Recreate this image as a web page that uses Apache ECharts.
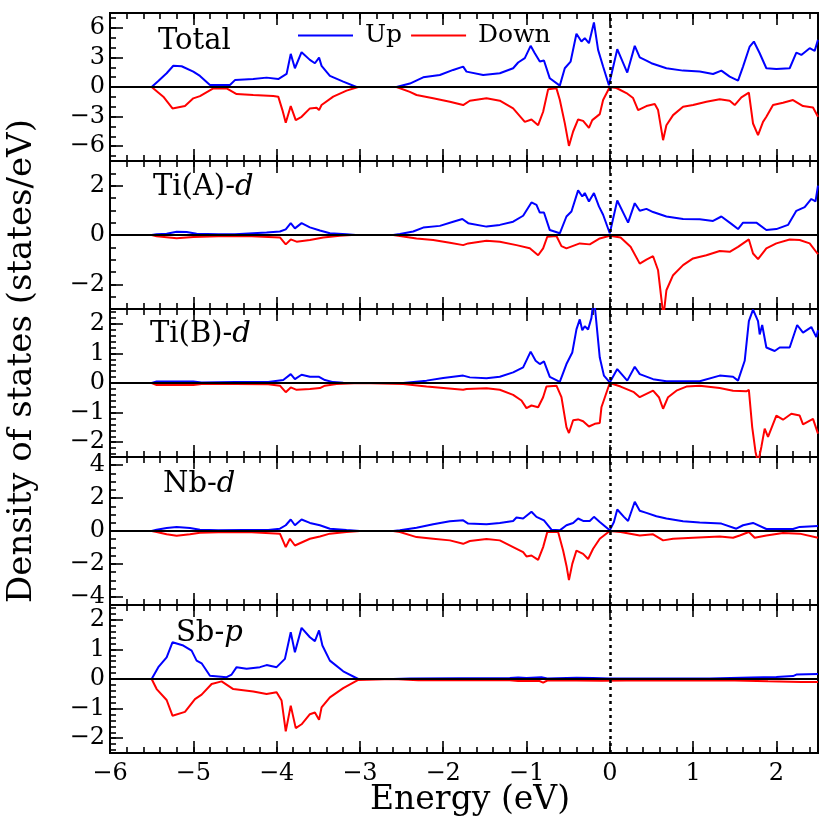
<!DOCTYPE html>
<html>
<head>
<meta charset="utf-8">
<script src="https://cdn.jsdelivr.net/npm/echarts@6/dist/echarts.min.js"></script>
<style>
html,body{margin:0;padding:0;background:#fff;}
#chart{width:826px;height:830px;}
</style>
</head>
<body>
<div id="chart"></div>
<script>
// ---- Data (energy in eV, DOS in states/eV) ----
const panelNames = ['Total', 'Ti(A)-{i|d}', 'Ti(B)-{i|d}', 'Nb-{i|d}', 'Sb-{i|p}'];
const xMajorTicks = [-6, -5, -4, -3, -2, -1, 0, 1, 2];

const yRanges = [[-7.5, 7.5], [-3, 3], [-2.5, 2.5], [-4.5, 4.5], [-2.5, 2.5]];
const yMajorTicks = [[-6, -3, 0, 3, 6], [-2, 0, 2], [-2, -1, 0, 1, 2], [-4, -2, 0, 2, 4], [-2, -1, 0, 1, 2]];
const yMinorSteps = [1, 0.5, 0.2, 0.5, 0.2];

const totalUp = [[-6,0],[-5.5,0],[-5.42,0.6],[-5.32,1.39],[-5.24,2.15],[-5.14,2.1],[-5.0,1.56],[-4.92,1.12],[-4.8,0.2],[-4.56,0.2],[-4.5,0.7],[-4.28,0.8],[-4.12,0.95],[-3.98,0.8],[-3.88,1.32],[-3.83,3.36],[-3.78,1.9],[-3.70,3.53],[-3.6,2.75],[-3.54,2.41],[-3.49,2.98],[-3.46,2.14],[-3.36,1.12],[-3.2,0.54],[-3.04,0],[-2.56,0],[-2.4,0.35],[-2.24,0.98],[-2.04,1.22],[-1.88,1.73],[-1.76,2.07],[-1.72,1.56],[-1.52,1.22],[-1.32,1.39],[-1.16,1.9],[-1.1,2.48],[-1.02,2.92],[-0.95,4.17],[-0.9,3.42],[-0.84,2.58],[-0.79,2.68],[-0.72,0.88],[-0.6,0.14],[-0.54,1.9],[-0.47,2.58],[-0.4,5.39],[-0.34,4.61],[-0.3,4.95],[-0.25,4.44],[-0.19,6.54],[-0.14,3.76],[-0.08,2.07],[-0.01,0.17],[0.09,3.83],[0.21,1.46],[0.30,4.17],[0.36,3.0],[0.44,2.68],[0.5,2.41],[0.68,1.9],[0.88,1.66],[1.08,1.56],[1.24,1.32],[1.34,1.66],[1.44,1.05],[1.54,0.65],[1.6,2.07],[1.68,4.1],[1.73,4.61],[1.8,3.42],[1.88,1.9],[2.0,1.83],[2.16,1.9],[2.24,3.49],[2.3,3.25],[2.4,3.93],[2.46,3.66],[2.5,4.78]];
const totalDown = [[-6,0],[-5.5,0],[-5.36,-0.98],[-5.25,-2.17],[-5.1,-1.93],[-5.0,-1.15],[-4.92,-0.92],[-4.76,-0.14],[-4.6,-0.14],[-4.48,-0.71],[-4.28,-0.81],[-4.04,-0.92],[-3.98,-0.98],[-3.93,-2.34],[-3.89,-3.63],[-3.83,-1.93],[-3.77,-3.36],[-3.70,-3.02],[-3.6,-2.17],[-3.52,-2.1],[-3.49,-2.34],[-3.46,-1.83],[-3.32,-0.98],[-3.16,-0.37],[-3.02,0],[-2.56,0],[-2.4,-0.5],[-2.32,-0.81],[-2.12,-1.15],[-1.92,-1.49],[-1.76,-1.83],[-1.68,-1.39],[-1.48,-1.15],[-1.32,-1.39],[-1.16,-2.17],[-1.02,-3.53],[-0.94,-3.29],[-0.86,-3.87],[-0.8,-2.51],[-0.74,-0.24],[-0.64,-0.14],[-0.6,-1.29],[-0.54,-3.66],[-0.49,-5.97],[-0.44,-4.51],[-0.38,-3.29],[-0.32,-3.43],[-0.25,-4.14],[-0.21,-3.36],[-0.12,-2.75],[-0.08,-1.32],[0,0],[0.08,-0.1],[0.2,-0.61],[0.28,-1.12],[0.34,-2.34],[0.44,-1.93],[0.54,-1.73],[0.58,-2.34],[0.64,-5.39],[0.68,-3.87],[0.76,-2.85],[0.88,-2.0],[1.0,-1.83],[1.16,-1.49],[1.32,-1.25],[1.44,-1.39],[1.5,-1.83],[1.58,-1.05],[1.67,-0.58],[1.72,-3.7],[1.78,-4.88],[1.84,-3.53],[1.88,-3.02],[1.96,-1.83],[2.08,-1.59],[2.2,-1.32],[2.32,-1.93],[2.44,-2.07],[2.5,-3.02]];

const tiAUp = [[-6,0],[-5.5,0],[-5.44,0.03],[-5.32,0.05],[-5.2,0.13],[-5.08,0.12],[-4.96,0.05],[-4.7,0.03],[-4.5,0.03],[-4.12,0.1],[-3.96,0.14],[-3.89,0.23],[-3.83,0.48],[-3.78,0.27],[-3.70,0.48],[-3.6,0.31],[-3.48,0.18],[-3.36,0.07],[-3.16,0.03],[-3.05,0],[-2.6,0],[-2.52,0.04],[-2.36,0.14],[-2.24,0.3],[-2.04,0.37],[-1.88,0.54],[-1.77,0.65],[-1.7,0.48],[-1.48,0.34],[-1.32,0.41],[-1.16,0.54],[-1.04,0.78],[-0.94,1.32],[-0.88,1.22],[-0.84,0.91],[-0.79,0.91],[-0.72,0.2],[-0.6,0.07],[-0.52,0.75],[-0.46,0.95],[-0.38,1.81],[-0.33,1.56],[-0.3,1.7],[-0.25,1.36],[-0.19,1.7],[-0.13,1.16],[-0.08,0.82],[0,0.07],[0.09,1.4],[0.22,0.5],[0.3,1.29],[0.36,0.98],[0.44,1.06],[0.52,0.93],[0.68,0.75],[0.88,0.65],[1.08,0.64],[1.24,0.57],[1.34,0.75],[1.46,0.45],[1.54,0.24],[1.6,0.5],[1.76,0.5],[1.88,0.2],[2.0,0.24],[2.14,0.41],[2.24,0.98],[2.34,1.13],[2.42,1.46],[2.47,1.36],[2.5,2.0]];
const tiADown = [[-6,0],[-5.5,0],[-5.44,-0.05],[-5.2,-0.13],[-5.0,-0.08],[-4.7,-0.05],[-4.3,-0.05],[-3.96,-0.1],[-3.89,-0.38],[-3.83,-0.18],[-3.76,-0.27],[-3.6,-0.2],[-3.44,-0.1],[-3.24,-0.03],[-3.1,0],[-2.6,0],[-2.52,-0.04],[-2.32,-0.14],[-2.12,-0.2],[-1.92,-0.31],[-1.76,-0.41],[-1.7,-0.34],[-1.48,-0.23],[-1.32,-0.27],[-1.12,-0.41],[-0.96,-0.54],[-0.86,-0.82],[-0.8,-0.54],[-0.75,-0.07],[-0.64,-0.04],[-0.58,-0.45],[-0.52,-0.54],[-0.36,-0.34],[-0.24,-0.38],[-0.12,-0.14],[0,-0.03],[0.13,-0.1],[0.25,-0.48],[0.36,-1.16],[0.44,-1.0],[0.52,-0.86],[0.58,-1.43],[0.62,-2.6],[0.645,-3.3],[0.68,-2.24],[0.76,-1.63],[0.88,-1.22],[1.0,-0.95],[1.16,-0.82],[1.32,-0.65],[1.44,-0.68],[1.54,-0.48],[1.67,-0.18],[1.72,-0.75],[1.78,-0.98],[1.88,-0.54],[2.0,-0.34],[2.16,-0.18],[2.28,-0.2],[2.4,-0.34],[2.5,-0.78]];

const tiBUp = [[-6,0],[-5.5,0],[-5.44,0.05],[-5.0,0.05],[-4.9,0.02],[-4.5,0.03],[-4.1,0.03],[-3.92,0.1],[-3.83,0.3],[-3.78,0.13],[-3.7,0.28],[-3.6,0.21],[-3.49,0.21],[-3.42,0.1],[-3.32,0.03],[-3.2,0.01],[-3.0,0],[-2.48,0],[-2.2,0.08],[-2.0,0.17],[-1.76,0.25],[-1.68,0.19],[-1.48,0.16],[-1.32,0.21],[-1.16,0.36],[-1.04,0.53],[-0.95,1.06],[-0.89,0.75],[-0.84,0.64],[-0.79,0.73],[-0.72,0.21],[-0.6,0.04],[-0.52,0.64],[-0.45,1.03],[-0.4,1.81],[-0.36,2.15],[-0.33,1.78],[-0.3,1.92],[-0.26,1.81],[-0.22,2.2],[-0.19,2.9],[-0.12,0.86],[-0.07,0.25],[0,0.02],[0.09,0.47],[0.21,0.08],[0.3,0.55],[0.36,0.3],[0.52,0.13],[0.68,0.06],[1.08,0.06],[1.32,0.25],[1.48,0.21],[1.54,0.08],[1.62,0.75],[1.67,2.09],[1.72,2.48],[1.78,2.09],[1.8,1.64],[1.83,1.96],[1.88,1.2],[1.98,1.08],[2.04,1.2],[2.16,1.2],[2.25,1.96],[2.32,1.7],[2.42,1.89],[2.48,1.55],[2.5,1.78]];
const tiBDown = [[-6,0],[-5.5,0],[-5.44,-0.07],[-5.0,-0.07],[-4.9,-0.03],[-4.5,-0.03],[-4.1,-0.04],[-3.96,-0.09],[-3.89,-0.31],[-3.83,-0.15],[-3.76,-0.23],[-3.6,-0.2],[-3.48,-0.17],[-3.42,-0.09],[-3.28,-0.03],[-3.0,0],[-2.48,-0.03],[-2.2,-0.12],[-1.76,-0.23],[-1.72,-0.2],[-1.48,-0.18],[-1.32,-0.23],[-1.16,-0.4],[-1.06,-0.59],[-1.0,-0.85],[-0.94,-0.76],[-0.86,-0.82],[-0.8,-0.48],[-0.76,-0.12],[-0.64,-0.09],[-0.58,-0.48],[-0.52,-1.49],[-0.49,-1.69],[-0.44,-1.26],[-0.38,-1.23],[-0.32,-1.29],[-0.25,-1.47],[-0.18,-1.38],[-0.12,-1.35],[-0.1,-0.82],[0,0],[0.13,-0.12],[0.29,-0.31],[0.36,-0.48],[0.52,-0.26],[0.59,-0.48],[0.64,-0.87],[0.7,-0.48],[0.8,-0.26],[0.92,-0.12],[1.08,-0.09],[1.32,-0.17],[1.48,-0.26],[1.64,-0.28],[1.67,-0.23],[1.71,-1.49],[1.75,-2.33],[1.78,-2.7],[1.82,-2.16],[1.86,-1.54],[1.9,-1.82],[2.0,-1.1],[2.08,-1.24],[2.18,-1.04],[2.28,-1.1],[2.32,-1.4],[2.44,-1.21],[2.5,-1.71]];

const nbUp = [[-6,0],[-5.5,0],[-5.44,0.08],[-5.32,0.18],[-5.2,0.25],[-5.04,0.18],[-4.92,0.08],[-4.7,0.04],[-4.4,0.06],[-4.1,0.06],[-3.96,0.14],[-3.89,0.35],[-3.83,0.7],[-3.78,0.35],[-3.7,0.7],[-3.6,0.49],[-3.48,0.35],[-3.36,0.14],[-3.16,0.06],[-3.0,0],[-2.6,0],[-2.52,0.04],[-2.32,0.2],[-2.12,0.41],[-1.92,0.59],[-1.76,0.65],[-1.7,0.45],[-1.48,0.41],[-1.32,0.49],[-1.16,0.61],[-1.12,0.82],[-1.04,0.76],[-0.94,1.17],[-0.88,0.86],[-0.79,0.65],[-0.7,0.08],[-0.6,0.04],[-0.52,0.35],[-0.44,0.49],[-0.38,0.76],[-0.32,0.61],[-0.24,0.61],[-0.19,0.86],[-0.12,0.55],[0,0.04],[0.05,0.55],[0.09,1.31],[0.17,0.86],[0.22,0.61],[0.3,1.78],[0.36,1.23],[0.44,1.1],[0.56,0.9],[0.68,0.76],[0.88,0.59],[1.08,0.51],[1.34,0.45],[1.52,0.14],[1.6,0.35],[1.72,0.49],[1.88,0.12],[2.2,0.12],[2.28,0.25],[2.5,0.31]];
const nbDown = [[-6,0],[-5.5,0],[-5.44,-0.06],[-5.32,-0.2],[-5.2,-0.29],[-5.04,-0.2],[-4.92,-0.1],[-4.7,-0.07],[-4.3,-0.08],[-3.96,-0.16],[-3.89,-0.98],[-3.84,-0.47],[-3.78,-0.88],[-3.6,-0.47],[-3.48,-0.33],[-3.36,-0.16],[-3.16,-0.06],[-3.0,0],[-2.6,0],[-2.52,-0.06],[-2.32,-0.37],[-2.12,-0.47],[-1.92,-0.57],[-1.76,-0.78],[-1.68,-0.61],[-1.48,-0.49],[-1.32,-0.57],[-1.16,-0.98],[-1.04,-1.29],[-1.0,-1.55],[-0.94,-1.49],[-0.86,-1.76],[-0.8,-0.98],[-0.75,-0.06],[-0.62,-0.06],[-0.56,-1.19],[-0.52,-2.11],[-0.49,-2.99],[-0.45,-2.0],[-0.4,-1.19],[-0.32,-1.39],[-0.26,-1.7],[-0.2,-1.08],[-0.12,-0.47],[0,0],[0.13,-0.06],[0.36,-0.27],[0.52,-0.2],[0.64,-0.57],[0.76,-0.47],[1.0,-0.41],[1.32,-0.33],[1.48,-0.41],[1.56,-0.27],[1.67,-0.06],[1.74,-0.41],[1.88,-0.27],[2.08,-0.12],[2.28,-0.16],[2.5,-0.41]];

const sbUp = [[-6,0],[-5.5,0],[-5.42,0.4],[-5.32,0.73],[-5.25,1.24],[-5.12,1.13],[-5.02,0.96],[-4.96,0.62],[-4.9,0.53],[-4.8,0.11],[-4.6,0.06],[-4.54,0.15],[-4.48,0.4],[-4.36,0.35],[-4.2,0.4],[-4.12,0.47],[-4.0,0.4],[-3.9,0.68],[-3.83,1.58],[-3.78,0.9],[-3.7,1.73],[-3.6,1.41],[-3.54,1.28],[-3.49,1.64],[-3.45,1.13],[-3.36,0.62],[-3.2,0.26],[-3.02,0],[-2.6,0],[-2.4,0.02],[-1.2,0.03],[-1.1,0.05],[-1.0,0.03],[-0.82,0.06],[-0.75,0.02],[-0.4,0.04],[-0.2,0.03],[0,0.02],[0.5,0.02],[1.2,0.02],[1.7,0.05],[2.0,0.07],[2.2,0.1],[2.24,0.15],[2.5,0.17]];
const sbDown = [[-6,0],[-5.5,0],[-5.44,-0.34],[-5.32,-0.71],[-5.25,-1.24],[-5.1,-1.11],[-4.98,-0.68],[-4.9,-0.53],[-4.78,-0.17],[-4.66,-0.08],[-4.52,-0.34],[-4.28,-0.42],[-4.12,-0.51],[-4.0,-0.45],[-3.94,-0.73],[-3.89,-1.77],[-3.83,-0.9],[-3.77,-1.66],[-3.7,-1.53],[-3.6,-1.19],[-3.54,-1.13],[-3.49,-1.38],[-3.46,-0.96],[-3.36,-0.62],[-3.2,-0.31],[-3.02,-0.03],[-2.6,0],[-2.3,-0.04],[-1.2,-0.04],[-1.1,-0.07],[-0.85,-0.06],[-0.8,-0.12],[-0.75,-0.05],[-0.4,-0.05],[-0.1,-0.06],[0.2,-0.05],[1.5,-0.05],[1.9,-0.08],[2.3,-0.1],[2.5,-0.1]];

const upSeries = [totalUp, tiAUp, tiBUp, nbUp, sbUp];
const downSeries = [totalDown, tiADown, tiBDown, nbDown, sbDown];

// ---- Layout / style ----
const FONT = 'DejaVu Serif';
const GL = 110, GW = 708, GT = 13, GH = 148;
const BLUE = '#0000ff', RED = '#ff0000';

function fmt(v) { return v < 0 ? '\u2212' + Math.abs(v) : String(v); }
function steps(a, b, s) { const out = []; const n = Math.round((b - a) / s); for (let k = 0; k <= n; k++) out.push(+(a + k * s).toFixed(4)); return out; }
const xMinorTicks = steps(-6, 2.4, 0.2);

const grids = [], xAxes = [], yAxes = [], series = [];
const noLine = { show: false, onZero: false };
for (let i = 0; i < 5; i++) {
  grids.push({ left: GL, width: GW, top: GT + GH * i, height: GH, show: true, borderColor: '#000', borderWidth: 2, backgroundColor: 'transparent' });
  const base = { type: 'value', gridIndex: i, min: -6, max: 2.5, splitLine: { show: false }, axisLine: noLine };
  const lab = { show: i === 4, customValues: xMajorTicks, formatter: fmt, color: '#000', fontFamily: FONT, fontSize: 24, margin: 9 };
  ['bottom', 'top'].forEach(pos => {
    xAxes.push(Object.assign({}, base, { position: pos, axisTick: { inside: true, length: 12, customValues: xMajorTicks, lineStyle: { color: '#000', width: 1.6 } }, axisLabel: pos === 'bottom' ? lab : { show: false } }));
    xAxes.push(Object.assign({}, base, { position: pos, axisTick: { inside: true, length: 6, customValues: xMinorTicks, lineStyle: { color: '#000', width: 1.6 } }, axisLabel: { show: false } }));
  });
  const [ymin, ymax] = yRanges[i];
  const ybase = { type: 'value', gridIndex: i, min: ymin, max: ymax, position: 'left', splitLine: { show: false }, axisLine: noLine };
  yAxes.push(Object.assign({}, ybase, { axisTick: { inside: true, length: 13, customValues: yMajorTicks[i], lineStyle: { color: '#000', width: 1.6 } },
    axisLabel: { customValues: yMajorTicks[i], formatter: fmt, color: '#000', fontFamily: FONT, fontSize: 24, margin: 5 } }));
  const ym = steps(Math.ceil(ymin / yMinorSteps[i]) * yMinorSteps[i], Math.floor(ymax / yMinorSteps[i]) * yMinorSteps[i], yMinorSteps[i]);
  yAxes.push(Object.assign({}, ybase, { axisTick: { inside: true, length: 6, customValues: ym, lineStyle: { color: '#000', width: 1.6 } }, axisLabel: { show: false } }));

  series.push({ name: 'Up', type: 'line', xAxisIndex: i * 4, yAxisIndex: i * 2, data: upSeries[i], symbol: 'none', lineStyle: { color: BLUE, width: 2 }, itemStyle: { color: BLUE }, clip: true, silent: true, z: 3 });
  series.push({ name: 'Down', type: 'line', xAxisIndex: i * 4, yAxisIndex: i * 2, data: downSeries[i], symbol: 'none', lineStyle: { color: RED, width: 2 }, itemStyle: { color: RED }, clip: true, silent: true, z: 3,
    markLine: { silent: true, symbol: ['none', 'none'], label: { show: false }, animation: false,
      data: [
        { yAxis: 0, lineStyle: { type: 'solid', color: '#000', width: 2 } },
        { xAxis: 0, lineStyle: { type: [3, 4], color: '#000', width: 2.5 } }
      ] } });
}

const labelPos = [[158, 40], [153, 186], [150, 333], [163, 483], [176, 632]];
const graphics = panelNames.map((t, i) => ({
  type: 'text', left: labelPos[i][0], top: labelPos[i][1] - 13, z: 10,
  style: { text: t, font: '29px "' + FONT + '"', fill: '#000', rich: { i: { fontStyle: 'italic', fontFamily: FONT, fontSize: 29 } } }
}));
graphics.push({ type: 'text', x: 22, y: 361, rotation: Math.PI / 2, z: 10,
  style: { text: 'Density of states (states/eV)', font: '34px "' + FONT + '"', fill: '#000', align: 'center', verticalAlign: 'middle' } });
graphics.push({ type: 'text', x: 470, y: 800, z: 10,
  style: { text: 'Energy (eV)', font: '33px "' + FONT + '"', fill: '#000', align: 'center', verticalAlign: 'middle' } });

const chart = echarts.init(document.getElementById('chart'), null, { renderer: 'canvas' });
chart.setOption({
  animation: false,
  backgroundColor: '#fff',
  grid: grids,
  xAxis: xAxes,
  yAxis: yAxes,
  legend: { data: ['Up', 'Down'], left: 298, top: 23, padding: 0, icon: 'rect', itemWidth: 55, itemHeight: 2, itemGap: 9,
    textStyle: { fontFamily: FONT, fontSize: 25, color: '#000', padding: [0, 0, 0, 7] } },
  graphic: graphics,
  series: series
});
</script>
</body>
</html>
